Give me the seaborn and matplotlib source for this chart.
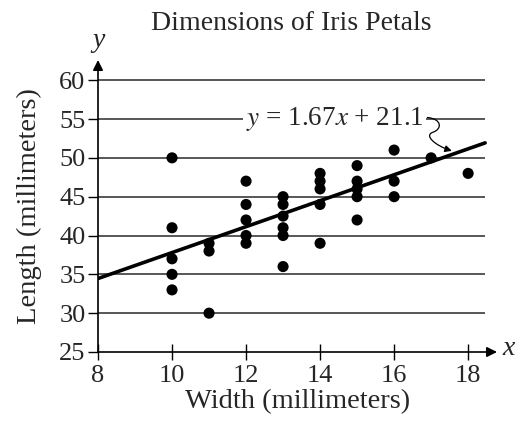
import numpy as np
import pandas as pd
import seaborn as sns
import matplotlib.pyplot as plt
from matplotlib.patches import FancyArrowPatch
from matplotlib.path import Path

# petal data
width = [10, 10, 10, 10, 10,
         11, 11, 11,
         12, 12, 12, 12, 12,
         13, 13, 13, 13, 13, 13,
         14, 14, 14, 14, 14,
         15, 15, 15, 15, 15,
         16, 16, 16,
         17, 18]
length = [50, 41, 37, 35, 33,
          39, 38, 30,
          47, 44, 42, 40, 39,
          45, 44, 42.5, 41, 40, 36,
          48, 47, 46, 44, 39,
          49, 47, 46, 45, 42,
          51, 47, 45,
          50, 48]

slope = 1.67
intercept = 21.1
line_x = [8, 18.46]
x_ticks = [8, 10, 12, 14, 16, 18]
y_ticks = [25, 30, 35, 40, 45, 50, 55, 60]

df = pd.DataFrame({'width': width, 'length': length})
fit = pd.DataFrame({'width': line_x})
fit['length'] = slope * fit['width'] + intercept

sns.set_style('white')
plt.rcParams['font.family'] = ['Liberation Serif', 'DejaVu Serif']
plt.rcParams['mathtext.fontset'] = 'stix'

fig = plt.figure(figsize=(5.16, 4.25), dpi=100)
ax = fig.add_axes([98 / 516, 73 / 425, 399 / 516, 292 / 425])
ax.set_xlim(8, 18.78)
ax.set_ylim(25, 62.6)

# grid lines, drawn by hand so they stop short of the arrow
ax.hlines(y_ticks[1:], 8, 18.46, color='#2a2a2a', lw=1.1, zorder=1)

sns.lineplot(data=fit, x='width', y='length', color='black', lw=2.6, ax=ax, zorder=3)
sns.scatterplot(data=df, x='width', y='length', color='black', s=64,
                edgecolor='none', ax=ax, zorder=4)

for s in ax.spines.values():
    s.set_visible(False)

# axes with arrow heads
ax.annotate('', xy=(18.78, 25), xytext=(8, 25),
            arrowprops=dict(arrowstyle='-|>', color='black', lw=1.2,
                            mutation_scale=15, shrinkA=0, shrinkB=0), annotation_clip=False)
ax.annotate('', xy=(8, 62.6), xytext=(8, 25),
            arrowprops=dict(arrowstyle='-|>', color='black', lw=1.2,
                            mutation_scale=15, shrinkA=0, shrinkB=0), annotation_clip=False)
ax.text(19.1, 25.4, 'x', fontsize=20, style='italic', ha='center', va='center', clip_on=False)
ax.text(8, 65.1, 'y', fontsize=20, style='italic', ha='center', va='center', clip_on=False)

ax.set_xticks(x_ticks)
ax.set_yticks(y_ticks)
ax.tick_params(bottom=True, left=True, width=1, labelsize=19, color='black')
ax.tick_params(axis='x', direction='inout', length=12, pad=3)
ax.tick_params(axis='y', direction='out', length=7, pad=2)

ax.set_xlabel('Width (millimeters)', fontsize=20.5, labelpad=2)
ax.set_ylabel('Length (millimeters)', fontsize=20.5, labelpad=12)
fig.text(291 / 516, 1 - 24 / 425, 'Dimensions of Iris Petals', fontsize=20,
         ha='center', va='center')

# equation label with its curly pointer
ax.text(14.4, 55, r'$y$ = 1.67$x$ + 21.1', fontsize=19.5, ha='center', va='center',
        bbox=dict(facecolor='white', edgecolor='none', pad=2), zorder=5)
squiggle = Path([(16.9, 55.2), (17.3, 55.0), (17.3, 53.7), (17.05, 53.3),
                 (16.8, 52.9), (17.1, 51.6), (17.56, 50.9)],
                [Path.MOVETO, Path.CURVE4, Path.CURVE4, Path.CURVE4,
                 Path.CURVE4, Path.CURVE4, Path.CURVE4])
ax.add_patch(FancyArrowPatch(path=squiggle, arrowstyle='-|>', mutation_scale=10,
                             color='black', lw=0.9, zorder=6))

fig.savefig('out.png', dpi=100)
